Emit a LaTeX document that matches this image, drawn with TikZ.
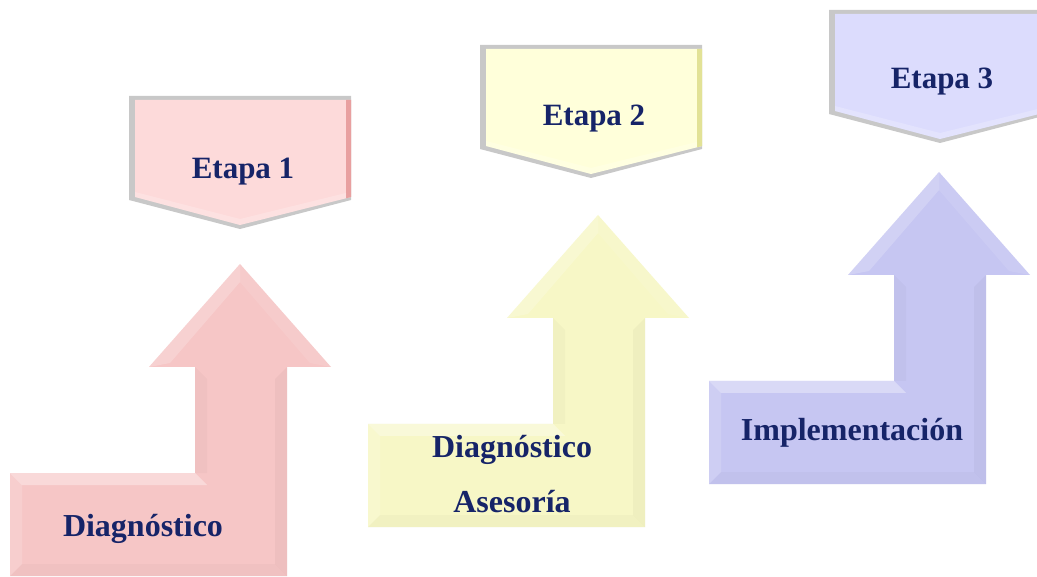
\documentclass[tikz,border=0pt]{standalone}
\usepackage{fontspec}
\setmainfont{Liberation Serif}
\definecolor{txtnavy}{RGB}{22,36,104}
\definecolor{pinkA}{RGB}{246,198,198}
\definecolor{pinkP}{RGB}{253,218,218}
\definecolor{pinkE}{RGB}{232,160,160}
\definecolor{yelA}{RGB}{247,247,198}
\definecolor{yelP}{RGB}{255,255,218}
\definecolor{yelE}{RGB}{226,226,150}
\definecolor{bluA}{RGB}{198,198,242}
\definecolor{bluP}{RGB}{220,220,253}
\definecolor{bluE}{RGB}{170,170,232}
\definecolor{shadowgray}{RGB}{200,200,200}
\newcommand\bentarrow[3]{% tip x, tip y, colour
  \begin{scope}[shift={(#1,#2)}]
    \fill[#3] (-230,209) -- (-45,209) -- (-45,103) -- (-91,103) -- (0,0)
      -- (91,103) -- (47,103) -- (47,312) -- (-230,312) -- cycle;
    \fill[white,opacity=0.35] (-230,209) -- (-45,209) -- (-33,221) -- (-218,221) -- cycle;
    \fill[white,opacity=0.15] (-230,209) -- (-218,221) -- (-218,300) -- (-230,312) -- cycle;
    \fill[black,opacity=0.025] (-230,312) -- (-218,300) -- (35,300) -- (47,312) -- cycle;
    \fill[black,opacity=0.03] (35,115) -- (47,103) -- (47,312) -- (35,300) -- cycle;
    \fill[white,opacity=0.2] (-91,103) -- (0,0) -- (0,18) -- (-70,99) -- cycle;
    \fill[white,opacity=0.1] (0,0) -- (91,103) -- (70,99) -- (0,18) -- cycle;
    \fill[black,opacity=0.025] (-45,103) -- (-33,115) -- (-33,209) -- (-45,209) -- cycle;
  \end{scope}}
\newcommand\stagebox[4]{% tip x, tip y, fill, edge
  \begin{scope}[shift={(#1,#2)}]
    \fill[shadowgray] (-111,-132) -- (111,-132) -- (111,-28) -- (0,1) -- (-111,-28) -- cycle;
    \fill[#3] (-105,-128) -- (111,-128) -- (111,-31) -- (0,-3) -- (-105,-31) -- cycle;
    \fill[#4] (106,-128) -- (111,-128) -- (111,-31) -- (106,-29.7) -- cycle;
    \fill[white,opacity=0.2] (-105,-31) -- (0,-3) -- (106,-29.7) -- (106,-35) -- (0,-9) -- (-105,-36) -- cycle;
  \end{scope}}
\tikzset{
  lbl/.style={text=txtnavy, font=\bfseries\fontsize{31}{37}\selectfont, inner sep=0pt, align=center},
  biglbl/.style={lbl, font=\bfseries\fontsize{32}{38}\selectfont},
}
\begin{document}
\begin{tikzpicture}[x=1pt,y=-1pt]
\useasboundingbox (0,0) rectangle (1037,577);
\fill[white] (0,0) rectangle (1037,577);
\begin{scope}
\clip (0,0) rectangle (1037,577);
\stagebox{240}{228}{pinkP}{pinkE}
\stagebox{591}{177}{yelP}{yelE}
\stagebox{940}{142}{bluP}{bluE}
\bentarrow{240}{264}{pinkA}
\bentarrow{598}{215}{yelA}
\bentarrow{939}{172}{bluA}
\end{scope}
\node[lbl] (etapa1) at (243,172) {Etapa 1};
\node[lbl] (etapa2) at (594,119) {Etapa 2};
\node[lbl] (etapa3) at (942,82) {Etapa 3};
\node[biglbl] (diag1) at (143,529) {Diagnóstico};
\node[biglbl] (diag2) at (512,450) {Diagnóstico};
\node[biglbl] (ases2) at (512,502) {Asesoría};
\node[biglbl] (impl3) at (852,433) {Implementación};
\end{tikzpicture}
\end{document}
